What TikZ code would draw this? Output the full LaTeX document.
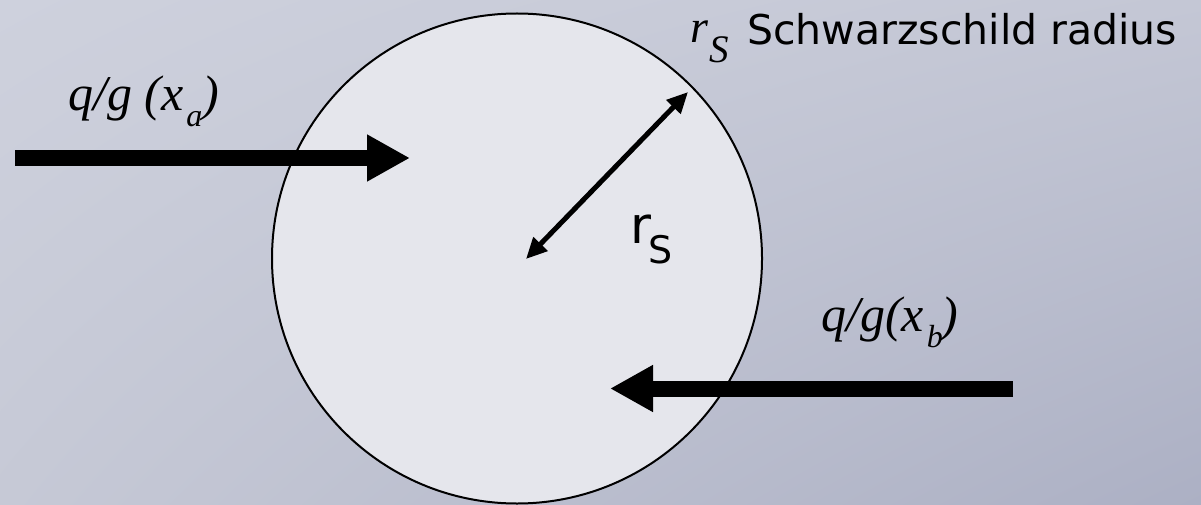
\documentclass[tikz,border=0pt]{standalone}
\usepackage{fontspec}
\setsansfont{DejaVu Sans}
\newfontfamily\timesit{Liberation Serif}[UprightFont=*/I]
\usetikzlibrary{arrows.meta, shadings}

\definecolor{skyUL}{RGB}{206,209,221}
\definecolor{skyUR}{RGB}{196,199,213}
\definecolor{skyLL}{RGB}{198,201,214}
\definecolor{skyLR}{RGB}{172,176,196}
\definecolor{holefill}{RGB}{229,230,236}

\newcommand{\fsz}[1]{\fontsize{#1}{#1}\selectfont}

\begin{document}
\begin{tikzpicture}[x=1pt, y=-1pt,
  bigarrow/.style={line width=16pt, -{Triangle[length=43pt, width=44pt]}},
  radarrow/.style={line width=5pt,
    {Triangle[length=21pt, width=19pt]}-{Triangle[length=21pt, width=19pt]}},
  lbl/.style={inner sep=0pt, anchor=base west}]

% sky background
\shade[upper left=skyUL, upper right=skyUR, lower left=skyLL, lower right=skyLR]
  (0,0) rectangle (1201,505);
\useasboundingbox (0,0) rectangle (1201,505);

% the horizon
\node[draw, circle, line width=2pt, fill=holefill, minimum size=490pt,
  inner sep=0pt] (hole) at (517,258.5) {};

% radius
\coordinate (centre) at (526,259);
\coordinate (rim) at (688,92);
\draw[radarrow] (centre) -- (rim);

% incoming and outgoing charges
\coordinate (ainstart) at (15,158);
\coordinate (aintip) at (410,158);
\draw[bigarrow] (ainstart) -- (aintip);
\coordinate (binstart) at (1013,388.5);
\coordinate (bintip) at (610,388.5);
\draw[bigarrow] (binstart) -- (bintip);

% labels
\node[lbl] (qa) at (68,111)
  {\timesit\fsz{50}q/g (x\kern3pt\raisebox{-16pt}{\fsz{32}a})};
\node[lbl] (qb) at (821,331)
  {\timesit\fsz{50}q/g(x\kern3pt\raisebox{-16pt}{\fsz{32}b}\kern-1pt)};
\node[lbl] (rstop) at (690,43)
  {\timesit\fsz{46}r\kern1pt\raisebox{-20pt}{\fsz{39}S}};
\node[lbl] (schw) at (747,45) {\sffamily\fsz{41}Schwarzschild radius};
\node[lbl] (rsmid) at (630,243)
  {\sffamily\fsz{51}r\kern-3pt\raisebox{-20pt}{\fsz{38}S}};
\end{tikzpicture}
\end{document}
